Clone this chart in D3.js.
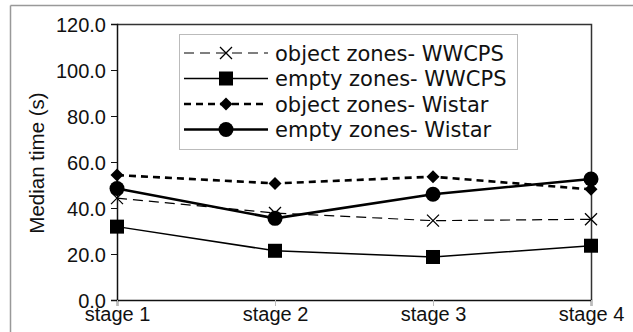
<!DOCTYPE html>
<html>
<meta charset="utf-8">
<script src="https://d3js.org/d3.v7.min.js"></script>
<style>
  body { margin: 0; background: #fff; }
  text { font-family: "Liberation Sans", Arial, sans-serif; fill: #111; }
  .legend text { font-family: "DejaVu Sans", sans-serif; }
</style>
<body>
<div id="chart"></div>
<script>
// data
var stages = ["stage 1", "stage 2", "stage 3", "stage 4"];
var objectWWCPS = [44.3, 37.8, 34.5, 35.1];
var emptyWWCPS = [31.9, 21.4, 18.7, 23.6];
var objectWistar = [54.3, 50.7, 53.6, 48.1];
var emptyWistar = [48.5, 35.5, 46.0, 52.6];
var yTicks = [0, 20, 40, 60, 80, 100, 120];

var series = [
  {name: "object zones- WWCPS", values: objectWWCPS, marker: "cross", width: 1.2, dash: "10,6"},
  {name: "empty zones- WWCPS", values: emptyWWCPS, marker: "square", width: 1.5, dash: null},
  {name: "object zones- Wistar", values: objectWistar, marker: "diamond", width: 2.6, dash: "7,5"},
  {name: "empty zones- Wistar", values: emptyWistar, marker: "circle", width: 2.6, dash: null}
];

var W = 633, H = 332;
var margin = {top: 24, right: 42, bottom: 32, left: 117};
var width = W - margin.left - margin.right,
    height = H - margin.top - margin.bottom;

var svg = d3.select("#chart").append("svg")
  .attr("width", W).attr("height", H);

// outer frame of the figure
svg.append("line").attr("x1", 10.5).attr("x2", W).attr("y1", 5.5).attr("y2", 5.5)
  .attr("stroke", "#999").attr("stroke-width", 1.5);
svg.append("line").attr("x1", 10.5).attr("x2", 10.5).attr("y1", 5.5).attr("y2", H)
  .attr("stroke", "#999").attr("stroke-width", 1.5);

var g = svg.append("g")
  .attr("transform", "translate(" + margin.left + "," + margin.top + ")");

var x = d3.scalePoint().domain(stages).range([0, width]).padding(0);
var y = d3.scaleLinear().domain([0, 120]).range([height, 0]);

// plot box top/right
g.append("path")
  .attr("d", "M0,0.5H" + (width + 0.5) + "V" + height)
  .attr("fill", "none").attr("stroke", "#333").attr("stroke-width", 1.5);

var yAxis = g.append("g")
  .call(d3.axisLeft(y).tickValues(yTicks).tickFormat(d3.format(".1f")).tickSize(6).tickPadding(5));
yAxis.select(".domain").attr("stroke", "#111").attr("stroke-width", 1.5);
yAxis.selectAll(".tick line").attr("stroke", "#111");
yAxis.selectAll("text").style("font-size", "20px").attr("dy", "0.36em");

var xAxis = g.append("g")
  .attr("transform", "translate(0," + height + ")")
  .call(d3.axisBottom(x).tickSize(6).tickPadding(1));
xAxis.select(".domain").attr("stroke", "#111").attr("stroke-width", 1.5);
xAxis.selectAll(".tick line").attr("stroke", "#bbb");
xAxis.selectAll("text").style("font-size", "20px");

svg.append("text")
  .attr("transform", "translate(44," + 163 + ") rotate(-90)")
  .attr("text-anchor", "middle")
  .style("font-size", "20.5px")
  .text("Median time (s)");

function drawMarker(sel, type) {
  if (type === "square") {
    sel.append("rect").attr("x", -7).attr("y", -7).attr("width", 14).attr("height", 14).attr("fill", "#000");
  } else if (type === "circle") {
    sel.append("circle").attr("r", 7.5).attr("fill", "#000");
  } else if (type === "diamond") {
    sel.append("path").attr("d", "M0,-6.5L6.5,0L0,6.5L-6.5,0Z").attr("fill", "#000");
  } else {
    sel.append("path").attr("d", "M-6,-6L6,6M-6,6L6,-6").attr("stroke", "#000").attr("stroke-width", 1.3);
  }
}

var line = d3.line().x(function(d, i) { return x(stages[i]); }).y(function(d) { return y(d); });

series.forEach(function(s) {
  g.append("path").datum(s.values)
    .attr("d", line)
    .attr("fill", "none").attr("stroke", "#000")
    .attr("stroke-width", s.width)
    .attr("stroke-dasharray", s.dash);
  g.selectAll(null).data(s.values).enter().append("g")
    .attr("transform", function(d, i) { return "translate(" + x(stages[i]) + "," + y(d) + ")"; })
    .each(function() { drawMarker(d3.select(this), s.marker); });
});

// legend
var legend = svg.append("g").attr("class", "legend");
legend.append("rect")
  .attr("x", 179.5).attr("y", 34.5).attr("width", 338).attr("height", 115)
  .attr("fill", "#fff").attr("stroke", "#bbb");
series.forEach(function(s, i) {
  var ly = 53 + i * 25.5;
  var row = legend.append("g");
  row.append("line").attr("x1", 184).attr("x2", 268).attr("y1", ly).attr("y2", ly)
    .attr("stroke", "#000").attr("stroke-width", s.width).attr("stroke-dasharray", s.dash);
  drawMarker(row.append("g").attr("transform", "translate(226," + ly + ")"), s.marker);
  row.append("text").attr("x", 275).attr("y", ly).attr("dy", "0.36em")
    .style("font-size", "21px").text(s.name);
});
</script>
</body>
</html>
